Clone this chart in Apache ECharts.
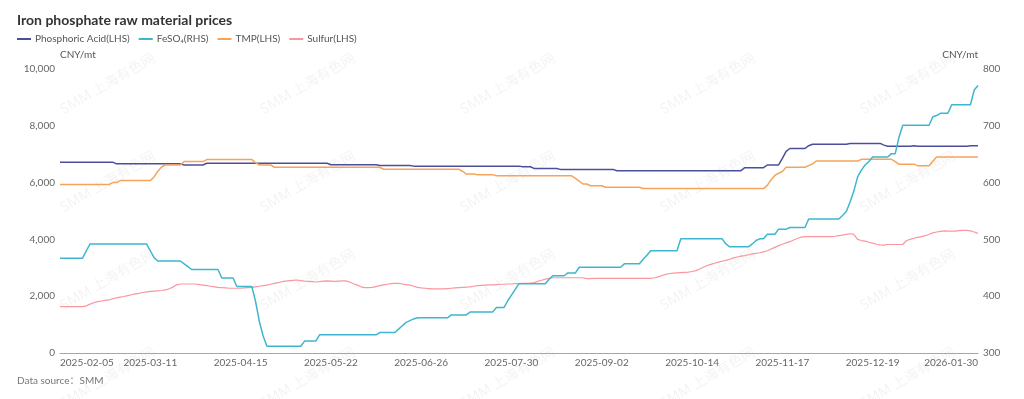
<!DOCTYPE html>
<html>
<head>
<meta charset="utf-8">
<script src="https://cdn.jsdelivr.net/npm/echarts@6/dist/echarts.min.js"></script>
<style>
  html, body { margin: 0; padding: 0; background: #fff; }
  #chart { width: 1024px; height: 399px; }
</style>
</head>
<body>
<div id="chart"></div>
<script>
// 交易日：工作日，去掉法定节假日
const startDate = '2025-02-05';
const endDate = '2026-01-30';
const holidays = ['2025-04-04', '2025-05-01', '2025-05-02', '2025-05-05', '2025-06-02',
    '2025-10-01', '2025-10-02', '2025-10-03', '2025-10-06', '2025-10-07', '2025-10-08',
    '2026-01-01', '2026-01-02'];

// x 轴显示的日期
const tickLabels = ['2025-02-05', '2025-03-11', '2025-04-15', '2025-05-22', '2025-06-26',
    '2025-07-30', '2025-09-02', '2025-10-14', '2025-11-17', '2025-12-19', '2026-01-30'];

const seriesNames = ['Phosphoric Acid(LHS)', 'FeSO\u2084(RHS)', 'TMP(LHS)', 'Sulfur(LHS)'];

// 磷酸 CNY/mt (左轴)
const phosphoricAcid = [
    6720, 6720, 6720, 6720, 6720, 6720, 6720, 6720, 6720, 6720,
    6720, 6720, 6720, 6720, 6720, 6660, 6660, 6660, 6660, 6660,
    6660, 6660, 6660, 6660, 6660, 6660, 6660, 6660, 6660, 6660,
    6660, 6660, 6660, 6620, 6620, 6620, 6620, 6620, 6620, 6680,
    6680, 6680, 6680, 6680, 6680, 6680, 6680, 6680, 6680, 6680,
    6680, 6680, 6680, 6680, 6680, 6680, 6680, 6680, 6680, 6680,
    6680, 6680, 6680, 6680, 6680, 6680, 6680, 6680, 6680, 6680,
    6680, 6680, 6630, 6630, 6630, 6630, 6630, 6630, 6630, 6630,
    6630, 6630, 6630, 6630, 6630, 6600, 6600, 6600, 6600, 6600,
    6600, 6600, 6600, 6600, 6580, 6580, 6580, 6580, 6580, 6580,
    6580, 6580, 6580, 6580, 6580, 6580, 6580, 6580, 6580, 6580,
    6580, 6580, 6580, 6580, 6580, 6580, 6580, 6580, 6580, 6580,
    6580, 6580, 6580, 6560, 6560, 6560, 6500, 6500, 6500, 6500,
    6500, 6500, 6500, 6465, 6465, 6465, 6465, 6465, 6465, 6465,
    6465, 6465, 6465, 6465, 6465, 6465, 6465, 6465, 6420, 6420,
    6420, 6420, 6420, 6420, 6420, 6420, 6420, 6420, 6420, 6420,
    6420, 6420, 6420, 6420, 6420, 6420, 6420, 6420, 6420, 6420,
    6420, 6420, 6420, 6420, 6420, 6420, 6420, 6420, 6420, 6420,
    6420, 6420, 6525, 6525, 6525, 6525, 6525, 6525, 6620, 6620,
    6620, 6620, 6850, 7100, 7200, 7200, 7200, 7200, 7200, 7300,
    7350, 7350, 7350, 7350, 7350, 7350, 7350, 7350, 7350, 7350,
    7380, 7380, 7380, 7380, 7380, 7380, 7380, 7380, 7380, 7320,
    7280, 7280, 7280, 7280, 7280, 7280, 7280, 7300, 7280, 7280,
    7280, 7280, 7280, 7280, 7280, 7280, 7280, 7280, 7280, 7280,
    7280, 7280, 7300, 7300, 7300
];

// 硫酸亚铁 CNY/mt (右轴)
const feso4 = [
    467, 467, 467, 467, 467, 467, 467, 480, 492, 492,
    492, 492, 492, 492, 492, 492, 492, 492, 492, 492,
    492, 492, 492, 492, 480, 468, 462, 462, 462, 462,
    462, 462, 462, 457, 452, 447, 447, 447, 447, 447,
    447, 447, 447, 432, 432, 432, 432, 417, 417, 417,
    417, 417, 390, 355, 330, 312, 312, 312, 312, 312,
    312, 312, 312, 312, 312, 321, 321, 321, 321, 332,
    332, 332, 332, 332, 332, 332, 332, 332, 332, 332,
    332, 332, 332, 332, 332, 336, 336, 336, 336, 336,
    342, 348, 354, 357, 360, 362, 362, 362, 362, 362,
    362, 362, 362, 362, 367, 367, 367, 367, 367, 372,
    372, 372, 372, 372, 372, 372, 380, 380, 380, 392,
    402, 412, 422, 422, 422, 422, 422, 422, 422, 422,
    430, 436, 436, 436, 436, 441, 441, 441, 451, 451,
    451, 451, 451, 451, 451, 451, 451, 451, 451, 451,
    457, 457, 457, 457, 457, 465, 472, 480, 480, 480,
    480, 480, 480, 480, 480, 501, 501, 501, 501, 501,
    501, 501, 501, 501, 501, 501, 501, 492, 487, 487,
    487, 487, 487, 487, 492, 498, 501, 501, 509, 509,
    509, 518, 518, 518, 521, 521, 521, 521, 521, 536,
    536, 536, 536, 536, 536, 536, 536, 536, 542, 549,
    566, 585, 610, 622, 631, 637, 645, 645, 645, 645,
    645, 651, 651, 680, 701, 701, 701, 701, 701, 701,
    701, 701, 716, 718, 722, 722, 722, 737, 737, 737,
    737, 737, 737, 763, 771
];

// 工业级磷酸一铵 TMP CNY/mt (左轴)
const tmp = [
    5930, 5930, 5930, 5930, 5930, 5930, 5930, 5930, 5930, 5930,
    5930, 5930, 5930, 5930, 6000, 6000, 6070, 6070, 6070, 6070,
    6070, 6070, 6070, 6070, 6070, 6200, 6400, 6550, 6620, 6620,
    6620, 6620, 6620, 6740, 6740, 6740, 6740, 6740, 6740, 6810,
    6810, 6810, 6810, 6810, 6810, 6810, 6810, 6810, 6810, 6810,
    6810, 6810, 6700, 6620, 6620, 6620, 6620, 6540, 6540, 6540,
    6540, 6540, 6540, 6540, 6540, 6540, 6540, 6540, 6540, 6540,
    6540, 6540, 6540, 6540, 6540, 6540, 6540, 6540, 6540, 6540,
    6540, 6540, 6540, 6540, 6540, 6540, 6470, 6470, 6470, 6470,
    6470, 6470, 6470, 6470, 6470, 6470, 6470, 6470, 6470, 6470,
    6470, 6470, 6470, 6470, 6470, 6470, 6470, 6400, 6300, 6300,
    6300, 6280, 6280, 6280, 6280, 6280, 6240, 6240, 6240, 6240,
    6240, 6240, 6240, 6240, 6240, 6240, 6240, 6240, 6240, 6240,
    6240, 6240, 6240, 6240, 6240, 6240, 6240, 6150, 6050, 5950,
    5950, 5890, 5890, 5890, 5890, 5835, 5835, 5835, 5835, 5835,
    5835, 5835, 5835, 5835, 5835, 5790, 5790, 5790, 5790, 5790,
    5790, 5790, 5790, 5790, 5790, 5790, 5790, 5790, 5790, 5790,
    5790, 5790, 5790, 5790, 5790, 5790, 5790, 5790, 5790, 5790,
    5790, 5790, 5790, 5790, 5790, 5790, 5790, 5790, 5900, 6100,
    6250, 6330, 6390, 6540, 6540, 6540, 6540, 6540, 6540, 6600,
    6660, 6760, 6760, 6760, 6760, 6760, 6760, 6760, 6760, 6760,
    6760, 6760, 6760, 6820, 6820, 6820, 6820, 6820, 6820, 6820,
    6820, 6820, 6740, 6650, 6650, 6650, 6650, 6650, 6590, 6590,
    6590, 6590, 6750, 6900, 6900, 6900, 6900, 6900, 6900, 6900,
    6900, 6900, 6900, 6900, 6900
];

// 硫磺 CNY/mt (左轴)
const sulfur = [
    1630, 1630, 1630, 1630, 1630, 1630, 1630, 1660, 1720, 1770,
    1810, 1830, 1850, 1870, 1910, 1940, 1970, 1990, 2020, 2050,
    2080, 2100, 2130, 2150, 2170, 2180, 2190, 2200, 2220, 2260,
    2320, 2400, 2430, 2430, 2430, 2430, 2430, 2410, 2390, 2370,
    2350, 2330, 2310, 2300, 2290, 2280, 2280, 2280, 2280, 2290,
    2300, 2310, 2330, 2350, 2370, 2390, 2420, 2450, 2480, 2510,
    2530, 2550, 2560, 2570, 2550, 2530, 2520, 2510, 2500, 2510,
    2530, 2540, 2530, 2520, 2530, 2540, 2540, 2500, 2440, 2390,
    2330, 2300, 2300, 2310, 2340, 2370, 2400, 2420, 2440, 2450,
    2450, 2430, 2410, 2390, 2350, 2310, 2290, 2280, 2270, 2260,
    2260, 2260, 2260, 2270, 2280, 2290, 2300, 2310, 2320, 2330,
    2350, 2370, 2380, 2390, 2400, 2400, 2410, 2420, 2420, 2430,
    2430, 2440, 2440, 2450, 2450, 2460, 2480, 2520, 2560, 2600,
    2630, 2650, 2650, 2650, 2650, 2650, 2650, 2650, 2650, 2650,
    2620, 2620, 2630, 2630, 2630, 2630, 2630, 2630, 2630, 2630,
    2630, 2630, 2630, 2630, 2630, 2630, 2630, 2630, 2650, 2680,
    2730, 2770, 2800, 2810, 2820, 2830, 2840, 2850, 2870, 2900,
    2960, 3020, 3080, 3120, 3160, 3200, 3230, 3260, 3300, 3350,
    3380, 3410, 3430, 3460, 3490, 3510, 3530, 3560, 3600, 3660,
    3720, 3780, 3830, 3880, 3920, 3980, 4030, 4080, 4100, 4100,
    4100, 4100, 4100, 4100, 4100, 4100, 4110, 4130, 4150, 4180,
    4200, 4180, 4000, 3960, 3940, 3900, 3870, 3830, 3810, 3800,
    3820, 3820, 3820, 3820, 3820, 3960, 4000, 4040, 4070, 4100,
    4130, 4180, 4230, 4260, 4280, 4300, 4290, 4290, 4290, 4310,
    4320, 4320, 4300, 4260, 4210
];

const colors = ['#4b4f9b', '#3fb6cf', '#f6a45a', '#f9979d'];
const fontFamily = 'Lato, "Noto Sans", "Noto Sans CJK SC", sans-serif';

// 生成交易日列表
function buildDates(start, end, skip) {
    const out = [];
    const d = new Date(start + 'T00:00:00Z');
    const last = new Date(end + 'T00:00:00Z');
    while (d <= last) {
        const s = d.toISOString().slice(0, 10);
        const w = d.getUTCDay();
        if (w !== 0 && w !== 6 && skip.indexOf(s) < 0) out.push(s);
        d.setUTCDate(d.getUTCDate() + 1);
    }
    return out;
}

// 水印
function buildWatermarks() {
    const list = [];
    const xs = [108, 308, 508, 708, 908];
    const ys = [84, 182, 280, 378];
    ys.forEach((y) => {
        xs.forEach((x) => {
            list.push({
                type: 'text',
                x: x,
                y: y,
                rotation: Math.PI / 6,
                silent: true,
                z: -10,
                style: {
                    text: 'SMM 上海有色网',
                    fill: 'rgba(0, 0, 0, 0.05)',
                    font: '14px "Noto Sans", "Noto Sans CJK SC", sans-serif',
                    align: 'center',
                    verticalAlign: 'middle',
                },
            });
        });
    });
    return list;
}

const dates = buildDates(startDate, endDate, holidays);
const seriesData = [phosphoricAcid, feso4, tmp, sulfur];

const myChart = echarts.init(document.getElementById('chart'));

const option = {
    animation: false,
    color: colors,
    title: {
        text: 'Iron phosphate raw material prices',
        left: 17,
        top: 13,
        padding: 0,
        textStyle: {
            fontFamily: fontFamily,
            fontSize: 14,
            fontWeight: 'bold',
            color: '#333',
        },
    },
    legend: {
        left: 17,
        top: 34,
        padding: 0,
        icon: 'rect',
        itemWidth: 14,
        itemHeight: 2,
        itemGap: 9,
        textStyle: {
            fontFamily: fontFamily,
            fontSize: 10,
            color: '#555',
            padding: [0, 0, 0, -1],
        },
        data: seriesNames,
    },
    graphic: buildWatermarks().concat([
        {
            type: 'text',
            left: 17,
            top: 376,
            style: {
                text: 'Data source：SMM',
                fill: '#777',
                font: '10px ' + fontFamily,
            },
        },
    ]),
    grid: {
        left: 60,
        right: 46,
        top: 69,
        bottom: 46,
    },
    xAxis: {
        type: 'category',
        boundaryGap: false,
        data: dates,
        axisTick: { show: false },
        axisLine: {
            lineStyle: { color: '#a3a7b0', width: 1 },
        },
        axisLabel: {
            color: '#666',
            fontFamily: fontFamily,
            fontSize: 10,
            margin: 5,
            alignMinLabel: 'left',
            alignMaxLabel: 'right',
            interval: function (idx, value) {
                return tickLabels.indexOf(value) >= 0;
            },
        },
        splitLine: { show: false },
    },
    yAxis: [
        {
            type: 'value',
            min: 0,
            max: 10000,
            interval: 2000,
            name: 'CNY/mt',
            nameGap: 9,
            nameTextStyle: {
                align: 'left',
                color: '#555',
                fontFamily: fontFamily,
                fontSize: 10,
            },
            axisLine: { show: false },
            axisTick: { show: false },
            splitLine: { show: false },
            axisLabel: {
                color: '#666',
                fontFamily: fontFamily,
                fontSize: 10,
                margin: 5,
            },
        },
        {
            type: 'value',
            min: 300,
            max: 800,
            interval: 100,
            name: 'CNY/mt',
            nameGap: 9,
            nameTextStyle: {
                align: 'right',
                color: '#555',
                fontFamily: fontFamily,
                fontSize: 10,
            },
            axisLine: { show: false },
            axisTick: { show: false },
            splitLine: { show: false },
            axisLabel: {
                color: '#666',
                fontFamily: fontFamily,
                fontSize: 10,
                margin: 5,
            },
        },
    ],
    series: seriesNames.map((name, i) => {
        return {
            name: name,
            type: 'line',
            yAxisIndex: i === 1 ? 1 : 0,
            data: seriesData[i],
            symbol: 'none',
            showSymbol: false,
            lineStyle: { width: i === 3 ? 1.2 : 1.5 },
            z: i === 1 ? 3 : 2,
        };
    }),
};

myChart.setOption(option);
</script>
</body>
</html>
